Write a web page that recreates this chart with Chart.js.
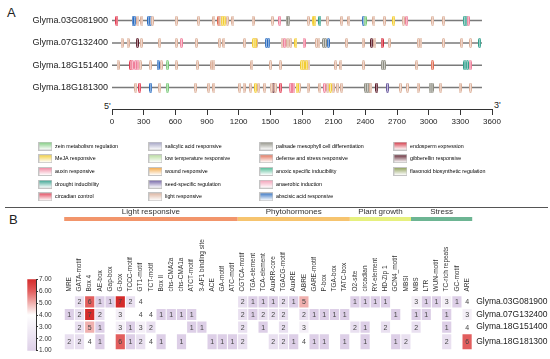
<!DOCTYPE html>
<html>
<head>
<meta charset="utf-8">
<script src="https://cdn.jsdelivr.net/npm/chart.js@4.4.1/dist/chart.umd.min.js"></script>
<style>
body { margin: 0; width: 550px; height: 359px; position: relative; background: #fff; overflow: hidden;
       font-family: "Liberation Sans", Arial, sans-serif; }
canvas { position: absolute; }
.t { position: absolute; color: #222; white-space: nowrap; line-height: 1; }
</style>
</head>
<body>
<div class="t" style="left:7px;top:6px;font-size:13px">A</div>
<div class="t" style="left:9px;top:213px;font-size:13px">B</div>
<div style="position:absolute;left:5px;top:207px;width:543px;border-top:1.4px solid #555"></div>
<div class="t" style="left:104px;top:102px;font-size:9px">5'</div>
<div class="t" style="left:494px;top:101px;font-size:9px">3'</div>

<canvas id="geneChart" width="550" height="130" style="left:0;top:0"></canvas>
<canvas id="legend1" width="110" height="75" style="left:30.6px;top:136px"></canvas>
<canvas id="legend2" width="110" height="75" style="left:140.6px;top:136px"></canvas>
<canvas id="legend3" width="130" height="75" style="left:251.6px;top:136px"></canvas>
<canvas id="legend4" width="130" height="75" style="left:385.6px;top:136px"></canvas>
<canvas id="groupChart" width="550" height="30" style="left:0;top:196px"></canvas>
<canvas id="heatChart" width="550" height="137" style="left:0;top:222px"></canvas>
<canvas id="scaleChart" width="45" height="90" style="left:20px;top:270px"></canvas>

<script>
// ---- panel A: cis-elements along the promoters ----
const geneNames = ['Glyma.03G081900', 'Glyma.07G132400', 'Glyma.18G151400', 'Glyma.18G181300'];
const geneLength = [3505, 3505, 3505, 3505];

const elementKeys = ['Z', 'M', 'X', 'D', 'C', 'Y', 'T', 'W', 'S', 'L', 'P', 'F', 'N', 'R', 'A', 'E', 'G', 'V'];
const elementNames = ['zein metabolism regulation', 'MeJA responsive', 'auxin responsive', 'drought inducibility',
  'circadian control', 'salicylic acid responsive', 'low temperature responsive', 'wound responsive',
  'seed-specific regulation', 'light responsive', 'palisade mesophyll cell differentiation',
  'defense and stress responsive', 'anoxic specific inducibility', 'anaerobic induction',
  'abscisic acid responsive', 'endosperm expression', 'gibberellin responsive', 'flavonoid biosynthetic regulation'];
const elementColors = ['#78c878', '#f2cc30', '#ef7f9a', '#2e9e8a', '#e23c52', '#9c9cc0', '#b4dc98', '#f2a33c',
  '#6a5aa0', '#dcb09a', '#8c8c80', '#e06a50', '#48b890', '#f29ab4', '#2a6cc0', '#d22a3a', '#5a1a28', '#889a50'];

const g1Pos = [47, 199, 215, 246, 284, 348, 363, 382, 609, 821, 966, 1013, 1030, 1045, 1068, 1092, 1146, 1336, 1519, 1589,
  1658, 1674, 1860, 1907, 1923, 1970, 2043, 2176, 2245, 2381, 2397, 2482, 2580, 2669, 2760, 2792, 3038, 3142, 3338, 3354, 3375];
const g1Type = ['C', 'A', 'A', 'L', 'L', 'A', 'A', 'L', 'L', 'L', 'L', 'F', 'L', 'M', 'M', 'L', 'L', 'L', 'L', 'X',
  'P', 'P', 'L', 'M', 'M', 'D', 'L', 'L', 'L', 'A', 'Z', 'L', 'L', 'M', 'L', 'X', 'L', 'L', 'D', 'D', 'X'];
const g2Pos = [95, 152, 240, 278, 452, 609, 657, 799, 1020, 1061, 1257, 1342, 1355, 1367, 1462, 1485, 1611, 1636, 1667, 1693,
  1743, 1819, 1937, 1961, 2004, 2023, 2049, 2223, 2378, 2460, 2491, 2558, 2627, 2902, 2927, 3141, 3313, 3396, 3483];
const g2Type = ['L', 'L', 'G', 'L', 'L', 'L', 'X', 'L', 'L', 'L', 'L', 'M', 'M', 'L', 'A', 'A', 'L', 'X', 'L', 'L',
  'M', 'X', 'L', 'L', 'P', 'P', 'A', 'L', 'L', 'G', 'L', 'E', 'L', 'L', 'L', 'L', 'L', 'L', 'D'];
const g3Pos = [57, 177, 192, 225, 246, 268, 363, 436, 467, 524, 609, 808, 947, 966, 1326, 1502, 1594, 1797, 1812, 1828,
  1845, 1866, 2119, 2169, 2381, 2561, 2582, 2887, 3034, 3344, 3366, 3392];
const g3Type = ['L', 'C', 'X', 'X', 'X', 'L', 'L', 'A', 'L', 'Z', 'L', 'L', 'L', 'L', 'L', 'L', 'L', 'M', 'M', 'L',
  'M', 'L', 'L', 'L', 'L', 'P', 'P', 'L', 'F', 'D', 'D', 'X'];
const g4Pos = [225, 262, 367, 452, 524, 789, 916, 966, 1210, 1251, 1314, 1361, 1390, 1447, 1509, 1528, 1549, 1598, 1689, 1705,
  1724, 1753, 1776, 1857, 1970, 2013, 2044, 2070, 2094, 2138, 2176, 2403, 2421, 2437, 2453, 2508, 2610, 2733, 2799, 2899,
  3013, 3032, 3114, 3297, 3396];
const g4Type = ['L', 'C', 'A', 'L', 'Z', 'L', 'L', 'L', 'L', 'L', 'L', 'M', 'L', 'L', 'L', 'G', 'L', 'C', 'X', 'C',
  'X', 'M', 'L', 'L', 'L', 'X', 'L', 'M', 'L', 'L', 'L', 'P', 'P', 'P', 'L', 'G', 'S', 'L', 'L', 'L',
  'P', 'P', 'L', 'L', 'L'];
const axisTicks = [0, 300, 600, 900, 1200, 1500, 1800, 2100, 2400, 2700, 3000, 3300, 3600];

// ---- panel B: element counts ----
const motifNames = ['MRE', 'GATA-motif', 'Box 4', 'AE-box', 'Gap-box', 'G-box', 'TCCC-motif', 'GT1-motif', 'TCT-motif',
  'Box II', 'chs-CMA2a', 'chs-CMA1a', 'ATCT-motif', '3-AF1 binding site', 'ACE', 'GA-motif', 'ATC-motif',
  'CGTCA-motif', 'TGA-element', 'TCA-element', 'AuxRR-core', 'TGACG-motif', 'AuxRE', 'ABRE', 'GARE-motif',
  'P-box', 'TGA-box', 'TATC-box', 'O2-site', 'circadian', 'RY-element', 'HD-Zip 1', 'GCN4_motif', 'MBSI',
  'MBS', 'LTR', 'WUN-motif', 'TC-rich repeats', 'GC-motif', 'ARE'];
const groupNames = ['Light responsive', 'Phytohormones', 'Plant growth', 'Stress'];
const groupSizes = [17, 11, 6, 6];
const groupColors = ['#f2956b', '#f6c46f', '#e6f07e', '#6db593'];

const _ = null;
const count1 = [_, 2, 6, 1, 1, 7, 2, 4, _, _, _, _, _, _, _, _, _, 2, 1, 1, 1, 2, 1, 5, _, _, _, _, 1, 1, 1, 1, _, _, 3, 1, 1, 3, 1, 4];
const count2 = [1, 2, 7, 2, _, 3, _, 4, 4, 1, 1, 1, 1, _, _, _, _, 2, 1, 2, 2, 2, _, 2, 1, 1, 1, 1, _, _, _, _, 1, _, 1, 1, _, 1, _, 3];
const count3 = [_, 2, 5, 1, _, 3, 1, 3, 2, _, _, _, 1, 1, _, _, _, 2, _, 1, _, 2, _, 3, _, _, _, _, 2, 1, _, 2, _, _, 2, _, _, 1, _, 4];
const count4 = [2, 2, 4, 1, _, 6, 1, 2, 4, 1, _, 1, _, _, 1, 1, 1, 2, _, _, 2, 2, 1, 4, 1, 1, _, 1, _, 1, _, _, 1, 2, _, _, _, 2, _, 6];
const scaleValues = [1, 2, 3, 4, 5, 6, 7];
const heatColors = ['#ddcfe7', '#e9e0f0', '#f4eff7', '#ffffff', '#f0b0ae', '#e25e5e', '#d42b2b'];

Chart.defaults.font.family = '"Liberation Sans", Arial, sans-serif';
Chart.defaults.animation = false;
Chart.defaults.plugins.tooltip.enabled = false;
Chart.defaults.plugins.legend.display = false;

function tint(hex, t) {
    const n = parseInt(hex.slice(1), 16);
    const ch = [n >> 16, (n >> 8) & 255, n & 255].map(v => Math.round(v + (255 - v) * t));
    return 'rgb(' + ch.join(',') + ')';
}

function capsule(color) {
    const c = document.createElement('canvas');
    c.width = 3;
    c.height = 10;
    const g = c.getContext('2d');
    g.fillStyle = tint(color, 0.6);
    g.strokeStyle = color;
    g.lineWidth = 1;
    g.beginPath();
    g.roundRect(0.5, 0.5, 2, 9, 1);
    g.fill();
    g.stroke();
    return c;
}

function swatch(color) {
    const c = document.createElement('canvas');
    c.width = 14;
    c.height = 9;
    const g = c.getContext('2d');
    const grad = g.createLinearGradient(0, 0, 0, 9);
    grad.addColorStop(0, color);
    grad.addColorStop(0.9, '#ffffff');
    g.fillStyle = grad;
    g.fillRect(0, 0, 14, 9);
    g.strokeStyle = '#c4c4c4';
    g.strokeRect(0.5, 0.5, 13, 8);
    return c;
}

const geneRows = [
    { pos: g1Pos, type: g1Type },
    { pos: g2Pos, type: g2Type },
    { pos: g3Pos, type: g3Type },
    { pos: g4Pos, type: g4Type }
];

const markerSets = elementKeys.map((key, k) => ({
    label: elementNames[k],
    data: geneRows.flatMap((row, r) => row.pos.filter((p, i) => row.type[i] === key).map(p => ({ x: p, y: r }))),
    pointStyle: capsule(elementColors[k]),
    pointRadius: 3,
    order: 1
}));

const lineSets = geneNames.map((name, r) => ({
    label: name,
    data: [{ x: 0, y: r }, { x: geneLength[r], y: r }],
    showLine: true,
    borderColor: '#7a7a7a',
    borderWidth: 1.5,
    pointRadius: 0,
    order: 2
}));

new Chart(document.getElementById('geneChart'), {
    type: 'scatter',
    data: { datasets: [...markerSets, ...lineSets] },
    options: {
        responsive: false,
        layout: { padding: { left: 0, right: 58, top: 2, bottom: 0 } },
        scales: {
            x: {
                type: 'linear', min: 0, max: 3600,
                afterBuildTicks: s => { s.ticks = axisTicks.map(v => ({ value: v })); },
                afterFit: s => { s.height = 21; },
                ticks: { callback: v => String(v), font: { size: 8 }, color: '#222', padding: 2, maxRotation: 0, autoSkip: false },
                grid: { drawOnChartArea: false, drawTicks: true, tickLength: 6, color: '#333' },
                border: { color: '#333', width: 1 }
            },
            y: {
                type: 'linear', min: -0.5, max: 3.96, reverse: true,
                afterBuildTicks: s => { s.ticks = geneNames.map((n, i) => ({ value: i })); },
                afterFit: s => { s.width = 112; },
                ticks: { callback: v => geneNames[v], font: { size: 9 }, color: '#222', padding: 4 },
                grid: { display: false, drawTicks: false },
                border: { display: false }
            }
        }
    }
});

// legend columns, 5 items each
const legendCols = [[0, 1, 2, 3, 4], [5, 6, 7, 8, 9], [10, 11, 12, 13, 14], [15, 16, 17]];
legendCols.forEach((col, c) => {
    new Chart(document.getElementById('legend' + (c + 1)), {
        type: 'scatter',
        data: { datasets: [] },
        options: {
            responsive: false,
            scales: { x: { display: false }, y: { display: false } },
            plugins: {
                legend: {
                    display: true,
                    position: 'top',
                    align: 'start',
                    maxHeight: 200,
                    labels: {
                        usePointStyle: true,
                        pointStyleWidth: 14,
                        padding: 7.4,
                        color: '#444',
                        font: { size: 5.3 },
                        generateLabels: () => col.map(k => ({
                            text: elementNames[k],
                            pointStyle: swatch(elementColors[k]),
                            fillStyle: elementColors[k],
                            strokeStyle: elementColors[k],
                            lineWidth: 0,
                            hidden: false
                        }))
                    }
                }
            }
        }
    });
});

// ---- panel B: group bars ----
let start = 0;
const groupSets = groupNames.map((name, g) => {
    const from = start - 0.5;
    start += groupSizes[g];
    return {
        label: name,
        data: [{ x: from, y: 0.5 }, { x: start - 0.5, y: 0.5 }],
        showLine: true,
        borderColor: groupColors[g],
        borderWidth: 3.8,
        borderCapStyle: 'butt',
        pointRadius: 0,
        clip: false
    };
});
const groupCenters = [];
groupSizes.reduce((acc, n) => { groupCenters.push(acc + n / 2 - 0.5); return acc + n; }, 0);

new Chart(document.getElementById('groupChart'), {
    type: 'scatter',
    data: { datasets: groupSets },
    options: {
        responsive: false,
        layout: { padding: { left: 64.2, right: 77.8, top: 0, bottom: 5 } },
        scales: {
            x: {
                type: 'linear', min: -0.5, max: 39.5, position: 'top',
                afterBuildTicks: s => { s.ticks = groupCenters.map(v => ({ value: v })); },
                afterFit: s => { s.height = 21; },
                ticks: { callback: (v, i) => groupNames[i], font: { size: 8 }, color: '#333', padding: 0.5, maxRotation: 0, autoSkip: false },
                grid: { display: false, drawTicks: false },
                border: { display: false }
            },
            y: { display: false, min: 0, max: 1 }
        }
    }
});

// ---- panel B: heat map ----
const rowEdges = [0, 1, 2, 3, 4.3];
const counts = [count1, count2, count3, count4];
const heatSets = counts.map((row, r) => ({
    label: geneNames[r],
    data: row.map((v, i) => v === null ? null : { x: i, y: [rowEdges[r] + 0.06, rowEdges[r + 1] - 0.06], v: v })
             .filter(d => d !== null),
    backgroundColor: ctx => ctx.raw ? heatColors[ctx.raw.v - 1] : '#fff',
    borderWidth: 0,
    barPercentage: 0.9,
    categoryPercentage: 1,
    grouped: false
}));

const cellText = {
    id: 'cellText',
    afterDatasetsDraw(chart) {
        const ctx = chart.ctx;
        ctx.save();
        ctx.font = '7px "Liberation Sans", Arial, sans-serif';
        ctx.fillStyle = '#444';
        ctx.textAlign = 'center';
        ctx.textBaseline = 'middle';
        chart.data.datasets.forEach((ds, d) => {
            chart.getDatasetMeta(d).data.forEach((el, i) => {
                const p = el.getCenterPoint();
                ctx.fillText(String(ds.data[i].v), p.x, p.y + 0.5);
            });
        });
        ctx.restore();
    }
};

new Chart(document.getElementById('heatChart'), {
    type: 'bar',
    data: { datasets: heatSets },
    plugins: [cellText],
    options: {
        responsive: false,
        layout: { padding: { left: 64.2, right: 0, top: 0, bottom: 5 } },
        scales: {
            x: {
                type: 'linear', min: -0.5, max: 39.5, position: 'top', offset: false,
                afterBuildTicks: s => { s.ticks = motifNames.map((n, i) => ({ value: i })); },
                afterFit: s => { s.height = 73.5; },
                ticks: { callback: v => motifNames[v], font: { size: 6.5 }, color: '#333', padding: 4,
                         labelOffset: 7.8, autoSkip: false, minRotation: 90, maxRotation: 90 },
                grid: { display: false, drawTicks: false },
                border: { display: false }
            },
            y: {
                type: 'linear', min: 0, max: 4.3, reverse: true, position: 'right',
                afterBuildTicks: s => { s.ticks = geneNames.map((n, i) => ({ value: (rowEdges[i] + rowEdges[i + 1]) / 2 })); },
                afterFit: s => { s.width = 77.8; },
                ticks: { callback: (v, i) => geneNames[i], font: { size: 8.5 }, color: '#222', padding: 4 },
                grid: { display: false, drawTicks: false },
                border: { display: false }
            }
        }
    }
});

// ---- colour scale ----
new Chart(document.getElementById('scaleChart'), {
    type: 'bar',
    data: {
        labels: ['scale'],
        datasets: [{
            data: [[scaleValues[0], scaleValues[scaleValues.length - 1]]],
            backgroundColor: ctx => {
                const area = ctx.chart.chartArea;
                if (!area) return '#fff';
                const g = ctx.chart.ctx.createLinearGradient(0, area.bottom, 0, area.top);
                heatColors.forEach((c, i) => g.addColorStop(i / (heatColors.length - 1), c));
                return g;
            },
            borderWidth: 0,
            barPercentage: 1,
            categoryPercentage: 1
        }]
    },
    options: {
        responsive: false,
        layout: { padding: { left: 7.3, right: 0, top: 9.3, bottom: 9.3 } },
        scales: {
            x: { display: false },
            y: {
                min: 1, max: 7, position: 'right',
                afterBuildTicks: s => { s.ticks = scaleValues.map(v => ({ value: v })); },
                afterFit: s => { s.width = 29; },
                ticks: { callback: v => v.toFixed(2), font: { size: 6.5 }, color: '#333', padding: 1 },
                grid: { drawOnChartArea: false, drawTicks: true, tickLength: 2, color: '#333' },
                border: { display: true, color: '#333', width: 1 }
            }
        }
    }
});
</script>
</body>
</html>
